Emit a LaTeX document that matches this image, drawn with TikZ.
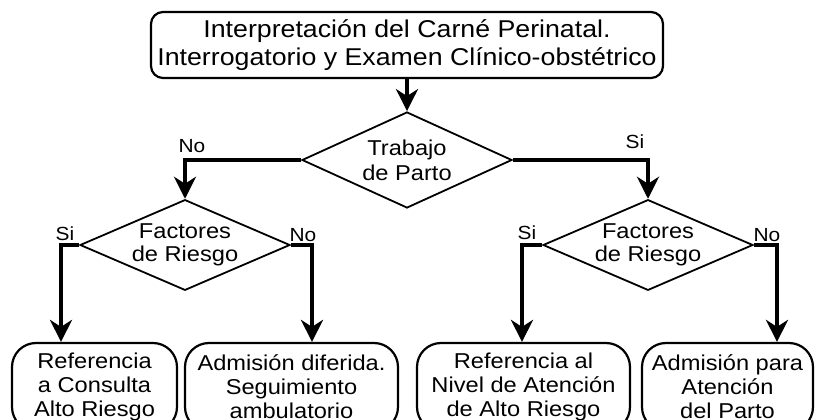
\documentclass[tikz,border=0pt]{standalone}
\usepackage{fontspec}
\setmainfont{Liberation Sans}[FakeStretch=1.1]
\usetikzlibrary{arrows.meta, positioning, shapes.geometric}

\begin{document}
\begin{tikzpicture}[x=1pt, y=-1pt,
  startbox/.style={draw, line width=2.2pt, rounded corners=12pt, align=center,
        inner sep=0pt, minimum width=512pt, minimum height=66pt,
        font=\fontsize{24.3}{28}\selectfont},
  decision/.style={draw, diamond, line width=1.8pt, align=center, inner sep=0pt,
        shape aspect=2.2, minimum width=210pt},
  endbox/.style={draw, line width=2.2pt, rounded corners=24pt, align=center,
        inner sep=0pt, minimum height=88pt, font=\fontsize{21.5}{24}\selectfont},
  conn/.style={line width=4pt, -{Stealth[length=22pt, width=22pt, inset=7pt]}},
  lbl/.style={font=\fontsize{19}{24}\selectfont, inner sep=0pt, anchor=base}]
  \useasboundingbox (0,0) rectangle (815,420);
  \clip (0,0) rectangle (815,420);

  \node[startbox] (carne) at (407,45)
    {Interpretación del Carné Perinatal.\\Interrogatorio y Examen Clínico-obstétrico};
  \node[decision, minimum height=96pt, font=\fontsize{21.5}{25}\selectfont]
    (trabajo) at (407,160) {Trabajo\\de Parto};
  \node[decision, minimum height=87pt, font=\fontsize{21.5}{23}\selectfont]
    (riesgoL) at (185,245) {Factores\\de Riesgo};
  \node[decision, minimum height=87pt, font=\fontsize{21.5}{23}\selectfont]
    (riesgoR) at (648,245) {Factores\\de Riesgo};

  \node[endbox, minimum width=165pt] (consulta) at (94.5,387)
    {Referencia\\a Consulta\\Alto Riesgo};
  \node[endbox, minimum width=213pt] (diferida) at (291.5,387)
    {Admisión diferida.\\Seguimiento\\ambulatorio};
  \node[endbox, minimum width=213pt] (nivel) at (523.5,387)
    {Referencia al\\Nivel de Atención\\de Alto Riesgo};
  \node[endbox, minimum width=171pt] (parto) at (727.5,387)
    {Admisión para\\Atención\\del Parto};

  \draw[conn] (carne.south) -- (trabajo.north);
  \draw[conn] (trabajo.west) -| (riesgoL.north);
  \draw[conn] (trabajo.east) -| (riesgoR.north);
  \draw[conn] (riesgoL.west) -| ([xshift=-33.5pt]consulta.north);
  \draw[conn] (riesgoL.east) -| ([xshift=20.5pt]diferida.north);
  \draw[conn] (riesgoR.west) -| ([xshift=-1.5pt]nivel.north);
  \draw[conn] (riesgoR.east) -| ([xshift=49.5pt]parto.north);

  % branch labels
  \node[lbl] (noT) at (192,153) {No};
  \node[lbl] (siT) at (635,149) {Si};
  \node[lbl] (siL) at (65,240) {Si};
  \node[lbl] (noL) at (303,241) {No};
  \node[lbl] (siR) at (527,239) {Si};
  \node[lbl] (noR) at (767,241) {No};
\end{tikzpicture}
\end{document}
